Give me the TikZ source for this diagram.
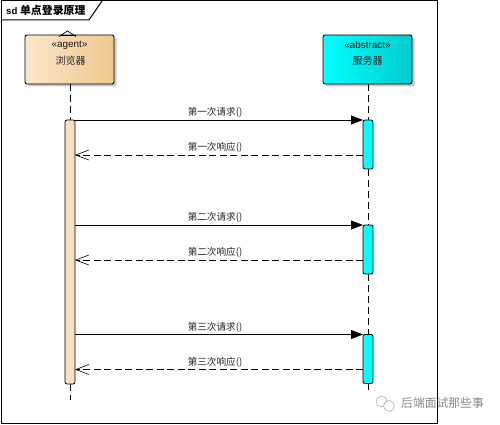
\documentclass[tikz,border=0pt]{standalone}
\usepackage{fontspec}
\setmainfont{Liberation Sans}
\newfontfamily\cjk{Noto Sans CJK SC}
\usetikzlibrary{arrows.meta,shadows}
\definecolor{agentl}{HTML}{FAE6CA}
\definecolor{agentr}{HTML}{F0C88E}
\definecolor{agentbar}{HTML}{F8E0C0}
\definecolor{srvl}{HTML}{00FFFF}
\definecolor{srvr}{HTML}{00CCCC}
\definecolor{markgray}{HTML}{8A8A8A}
\tikzset{
	lifebox/.style={draw=black, line width=0.9pt, rounded corners=2pt, minimum width=89pt, minimum height=49pt, inner sep=0pt, outer sep=0pt, drop shadow={shadow xshift=2.5pt, shadow yshift=-2.5pt, fill=black!35, opacity=0.6}},
	actbar/.style={draw=black, line width=0.8pt, rounded corners=2pt, minimum width=10pt, inner sep=0pt, outer sep=0pt},
	lifeline/.style={line width=0.8pt, dash pattern=on 7pt off 4pt},
	reqline/.style={line width=0.8pt, -{Triangle[length=12pt, width=9pt]}},
	respline/.style={line width=0.8pt, dash pattern=on 7pt off 3.5pt, -{Straight Barb[length=13pt, width=10pt, line width=0.6pt]}},
	msglabel/.style={font=\cjk\fontsize{9.6}{11}\selectfont, text=black!85, inner sep=0pt},
	boxlabel/.style={font=\cjk\fontsize{10}{12}\selectfont, text=black!85, inner sep=0pt},
	stereo/.style={font=\fontsize{9.9}{11}\selectfont, text=black!90, inner sep=0pt},
}
\begin{document}
\begin{tikzpicture}[x=1pt, y=-1pt, line cap=butt, line join=round]
	% Window as large as the reference
	\useasboundingbox (0,0) rectangle (500,425);
	\fill[white] (0,0) rectangle (500,425);

	% Frame with its title tab
	\draw[line width=1pt] (1,1) rectangle (437,423);
	\draw[line width=1pt] (1,20) -- (89,20) -- (102,1);
	\node[font=\bfseries\fontsize{9.6}{11}\selectfont, inner sep=0pt, anchor=west] (title) at (6,10.5) {sd {\cjk\fontsize{10.9}{11}\selectfont 单点登录原理}};

	% Lifeline heads
	\node[lifebox, left color=agentl, right color=agentr] (browser) at (69.5,59.5) {};
	\node[lifebox, left color=srvl, right color=srvr] (server) at (367.5,59.5) {};
	\node[stereo] (browserst) at (69.5,45) {«agent»};
	\node[boxlabel] (browsername) at (70.5,60.5) {\cjk 浏览器};
	\node[stereo] (serverst) at (367.5,45) {«abstract»};
	\node[boxlabel] (servername) at (367.5,60.5) {\cjk 服务器};

	% Small roof on the agent box
	\draw[line width=0.7pt] (59,36.5) -- (67.5,31) -- (76,36.5);
	\draw[line width=1.4pt] (60,35.5) -- (76,35.5);

	% Activation bars
	\node[actbar, fill=agentbar, minimum height=264pt] (browserbar) at (70,252) {};
	\node[actbar, fill=srvl, minimum height=49pt] (serverbar1) at (368,144.5) {};
	\node[actbar, fill=srvl, minimum height=49pt] (serverbar2) at (368,249.5) {};
	\node[actbar, fill=srvl, minimum height=49pt] (serverbar3) at (368,359) {};

	% Free ends of the lifelines
	\coordinate (browserend) at (70,400);
	\coordinate (serverend) at (368,390);

	% Dashed lifelines between heads and bars
	\draw[lifeline] (browser.south -| browserbar.north) -- (browserbar.north);
	\draw[lifeline] (browserbar.south) -- (browserend);
	\draw[lifeline] (server.south -| serverbar1.north) -- (serverbar1.north);
	\draw[lifeline] (serverbar1.south) -- (serverbar2.north);
	\draw[lifeline] (serverbar2.south) -- (serverbar3.north);
	\draw[lifeline] (serverbar3.south) -- (serverend);

	% Request and response of each round
	\foreach \n/\ord/\resp in {1/一/155, 2/二/260, 3/三/369.5} {
		\coordinate (resp\n) at (363,\resp);
		\draw[reqline] (browserbar.east |- serverbar\n.north west) -- (serverbar\n.north west);
		\draw[respline] (resp\n) -- (browserbar.east |- resp\n);
		\node[msglabel] (reqlabel\n) at ([yshift=7.5pt] 215,0 |- serverbar\n.north) {第\ord 次请求()};
		\node[msglabel] (resplabel\n) at ([yshift=7.5pt] 215,0 |- resp\n) {第\ord 次响应()};
	}

	% Watermark, lying over the frame
	\draw[markgray!70, line width=0.6pt] (381.5,401.5) circle (5.5pt);
	\fill[white] (389,406) circle (5.8pt);
	\draw[markgray!70, line width=0.6pt] (389,406) circle (5.5pt);
	\node[font=\cjk\fontsize{11.8}{13}\selectfont, text=markgray, inner sep=0pt, anchor=west] (watermark) at (401,403) {后端面试那些事};
\end{tikzpicture}
\end{document}
